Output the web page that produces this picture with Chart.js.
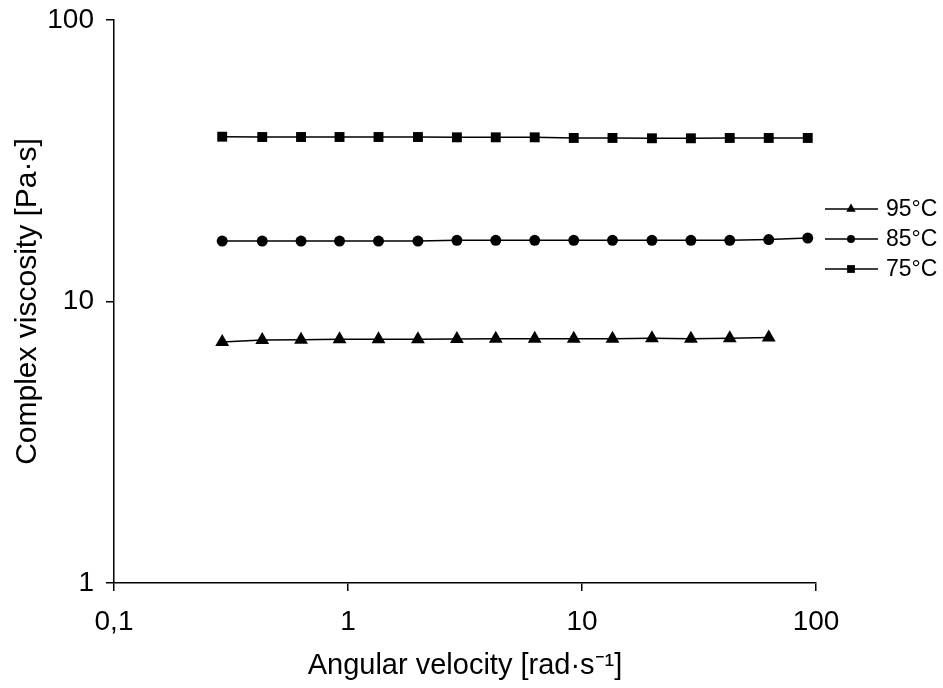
<!DOCTYPE html>
<html>
<head>
<meta charset="utf-8">
<script src="https://cdn.jsdelivr.net/npm/chart.js@4"></script>
<style>
  html, body { margin: 0; padding: 0; background: #fff; }
  #wrap { width: 943px; height: 688px; }
</style>
</head>
<body>
<div id="wrap"><canvas id="viscChart" width="943" height="688"></canvas></div>
<script>
// ============================================================
// 1. data
// ============================================================
const angularVelocity = [0.29, 0.43, 0.63, 0.92, 1.35, 1.99, 2.92, 4.28, 6.28, 9.22, 13.5, 19.9, 29.2, 42.8, 62.8, 92.2];
const visc95 = [7.18, 7.3, 7.32, 7.34, 7.35, 7.35, 7.36, 7.37, 7.37, 7.38, 7.38, 7.4, 7.38, 7.4, 7.45];
const visc85 = [16.4, 16.4, 16.4, 16.4, 16.4, 16.4, 16.5, 16.5, 16.5, 16.5, 16.5, 16.5, 16.5, 16.5, 16.6, 16.8];
const visc75 = [38.5, 38.4, 38.4, 38.4, 38.4, 38.4, 38.3, 38.3, 38.3, 38.1, 38.1, 38.0, 38.0, 38.1, 38.1, 38.1];

const seriesNames = ['95°C', '85°C', '75°C'];
const xTicks = [0.1, 1, 10, 100];
const xTickLabels = ['0,1', '1', '10', '100'];
const yTicks = [1, 10, 100];
const yTickLabels = ['1', '10', '100'];

const FONT = 'Arial, "Liberation Sans", sans-serif';

function toPoints(values) {
    return values.map((v, i) => ({ x: angularVelocity[i], y: v }));
}

// ============================================================
// 2. legend (line with marker through it, at the right)
// ============================================================
const sideLegend = {
    id: 'sideLegend',
    afterDraw(chart) {
        const ctx = chart.ctx;
        ctx.save();
        chart.data.datasets.forEach((ds, i) => {
            const y = 209 + i * 30;
            ctx.strokeStyle = '#000';
            ctx.lineWidth = 1.5;
            ctx.beginPath();
            ctx.moveTo(825, y);
            ctx.lineTo(878, y);
            ctx.stroke();
            ctx.fillStyle = '#000';
            Chart.helpers.drawPoint(ctx, {
                pointStyle: ds.pointStyle,
                radius: ds.legendRadius,
                borderWidth: 0
            }, 851, y);
            ctx.fillStyle = '#000';
            ctx.font = '23px ' + FONT;
            ctx.textBaseline = 'middle';
            ctx.textAlign = 'left';
            ctx.fillText(ds.label, 886, y + 1);
        });
        ctx.restore();
    }
};

// ============================================================
// 3. chart
// ============================================================
function makeSet(label, values, style, radius, legendRadius) {
    return {
        label: label,
        data: toPoints(values),
        borderColor: '#000',
        backgroundColor: '#000',
        borderWidth: 1.5,
        pointStyle: style,
        pointRadius: radius,
        pointBorderWidth: 0,
        legendRadius: legendRadius,
        tension: 0
    };
}

const axisColor = '#000';

new Chart(document.getElementById('viscChart'), {
    type: 'line',
    data: {
        datasets: [
            makeSet(seriesNames[0], visc95, 'triangle', 8, 5.5),
            makeSet(seriesNames[1], visc85, 'circle', 5.5, 4),
            makeSet(seriesNames[2], visc75, 'rect', 7, 5.5)
        ]
    },
    options: {
        responsive: false,
        animation: false,
        layout: { padding: { top: 20, right: 127, left: 0, bottom: 0 } },
        plugins: {
            legend: { display: false },
            tooltip: { enabled: false }
        },
        scales: {
            x: {
                type: 'logarithmic',
                min: 0.1,
                max: 100,
                afterBuildTicks: s => { s.ticks = xTicks.map(v => ({ value: v })); },
                afterFit: s => { s.height = 105; s.paddingLeft = 0; s.paddingRight = 0; },
                border: { display: true, color: axisColor, width: 1.5 },
                grid: { display: true, drawOnChartArea: false, drawTicks: true, tickLength: 8, color: axisColor, lineWidth: 1.5 },
                ticks: {
                    color: '#000',
                    padding: 14,
                    maxRotation: 0,
                    autoSkip: false,
                    font: { family: FONT, size: 28 },
                    callback: v => xTickLabels[xTicks.indexOf(v)]
                },
                title: {
                    display: true,
                    text: 'Angular velocity [rad·s⁻¹]',
                    color: '#000',
                    font: { family: FONT, size: 29 },
                    padding: { top: 0, bottom: 5 }
                }
            },
            y: {
                type: 'logarithmic',
                min: 1,
                max: 100,
                afterBuildTicks: s => { s.ticks = yTicks.map(v => ({ value: v })); },
                afterFit: s => { s.width = 114; s.paddingTop = 0; s.paddingBottom = 0; },
                border: { display: true, color: axisColor, width: 1.5 },
                grid: { display: true, drawOnChartArea: false, drawTicks: true, tickLength: 8, color: axisColor, lineWidth: 1.5 },
                ticks: {
                    color: '#000',
                    padding: 12,
                    autoSkip: false,
                    font: { family: FONT, size: 28 },
                    callback: v => yTickLabels[yTicks.indexOf(v)]
                },
                title: {
                    display: true,
                    text: 'Complex viscosity [Pa·s]',
                    color: '#000',
                    font: { family: FONT, size: 30 },
                    padding: { top: 10, bottom: 0 }
                }
            }
        }
    },
    plugins: [sideLegend]
});
</script>
</body>
</html>
